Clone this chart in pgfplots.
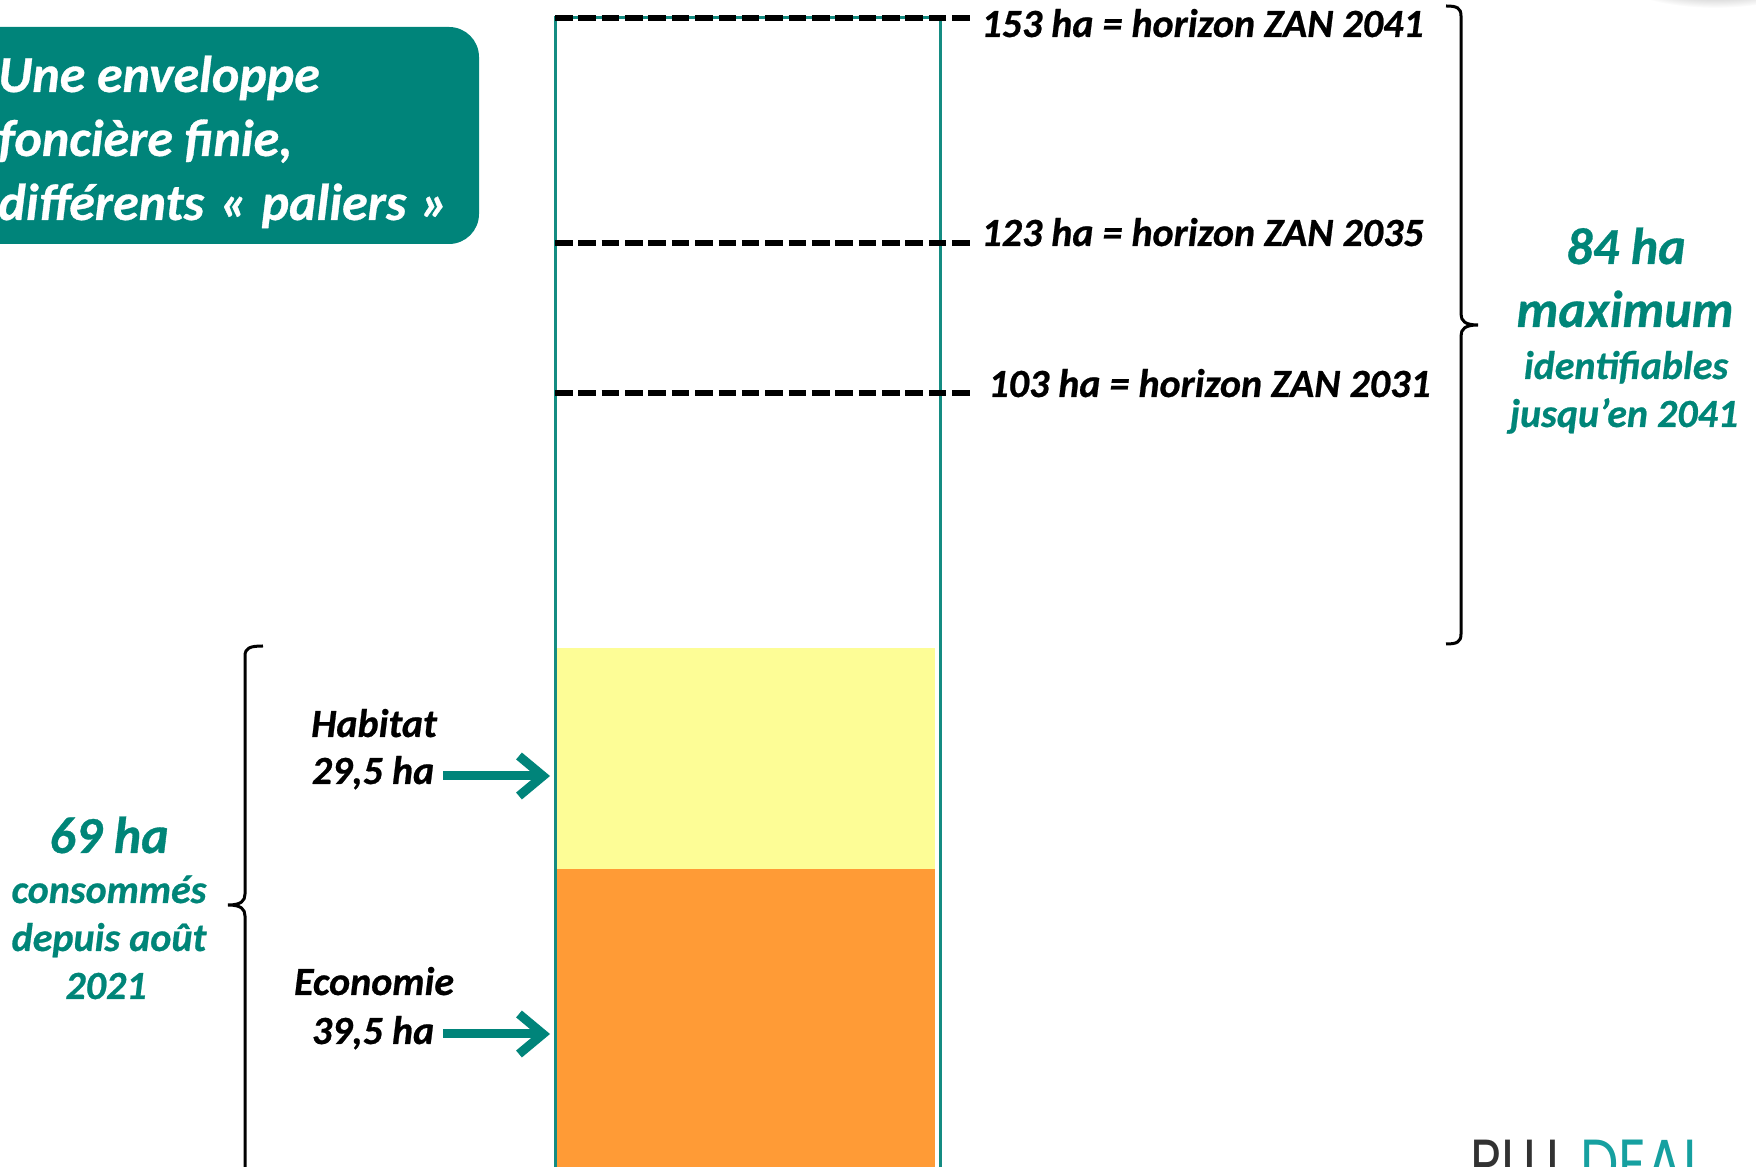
\documentclass[border=0pt]{standalone}
\usepackage{fontspec}
\setmainfont{Carlito}[BoldItalicFeatures={FakeBold=0.6}]
\newfontfamily\logofont{Poppins}
\usepackage{pgfplots}
\pgfplotsset{compat=1.18}
\usetikzlibrary{arrows.meta}
\definecolor{zteal}{RGB}{0,132,122}
\definecolor{tteal}{RGB}{0,133,120}
\definecolor{outl}{RGB}{20,140,130}
\definecolor{habit}{RGB}{253,253,150}
\definecolor{econ}{RGB}{255,155,54}
\definecolor{logoteal}{RGB}{22,160,160}
\definecolor{logodark}{RGB}{50,50,50}
\newcommand\zlab{\fontsize{20pt}{24pt}\selectfont\bfseries\itshape}
\newcommand\zbig{\fontsize{26pt}{30pt}\selectfont\bfseries\itshape}
\newcommand\zboxf{\fontsize{26pt}{30pt}\selectfont\bfseries\itshape}
\begin{document}
\begin{tikzpicture}
\begin{axis}[name=ax, width=878pt, height=583.5pt, scale only axis, hide axis,
  xmin=0, xmax=1756, ymin=-0.2, ymax=155.4, clip=false]
% consumed land: Economie 39.5 ha, Habitat 29.5 ha (total 69 ha)
\addplot[draw=none, fill=econ] coordinates {(557,-0.2) (557,39.5) (935,39.5) (935,-0.2)} -- cycle;
\addplot[draw=none, fill=habit] coordinates {(557,39.5) (557,69) (935,69) (935,39.5)} -- cycle;
% envelope outline up to 153 ha
\addplot[line width=1.5pt, draw=outl] coordinates {(555,-1) (555,153) (940,153) (940,-1)};
% horizons
\addplot[line width=3pt, black, dash pattern=on 8.8pt off 2.88pt] coordinates {(555,153) (970,153)};
\addplot[line width=3pt, black, dash pattern=on 8.8pt off 2.88pt] coordinates {(555,123) (970,123)};
\addplot[line width=3pt, black, dash pattern=on 8.8pt off 2.88pt] coordinates {(555,103) (970,103)};
\end{axis}
\begin{scope}[shift={(ax.north west)}, x=0.5pt, y=-0.5pt]
\node[anchor=base west, font=\zlab, inner sep=0pt] at (981,37) {153 ha = horizon ZAN 2041};
\node[anchor=base west, font=\zlab, inner sep=0pt] at (981,246) {123 ha = horizon ZAN 2035};
\node[anchor=base west, font=\zlab, inner sep=0pt] at (988,397) {103 ha = horizon ZAN 2031};
% top-right shadow
\shade[inner color=black!55, outer color=white] (1715,-28) ellipse (105 and 36);
% green box
\fill[zteal, rounded corners=15pt] (-80,27) rectangle (479,244);
\node[anchor=base west, font=\zboxf, text=white, inner sep=0pt] at (-2,92) {Une enveloppe};
\node[anchor=base west, font=\zboxf, text=white, inner sep=0pt] at (-2,156) {foncière finie,};
\node[anchor=base west, font=\zboxf, text=white, inner sep=0pt] at (-2,220) {différents\hspace{2pt} «\hspace{1pt} paliers\hspace{1pt} »};
% right brace
\draw[line width=1.5pt, black] (1446,6) .. controls (1457,6) and (1461,8) .. (1461,16)
  -- (1461,314) .. controls (1461,321) and (1465,325) .. (1478,325)
  .. controls (1465,325) and (1461,329) .. (1461,336) -- (1461,634)
  .. controls (1461,642) and (1457,644) .. (1446,644);
\node[anchor=base, font=\zbig, text=tteal, inner sep=0pt] at (1626,264) {84 ha};
\node[anchor=base, font=\zbig, text=tteal, inner sep=0pt] at (1625,327) {maximum};
\node[anchor=base, font=\zlab, text=tteal, inner sep=0pt] at (1626,379) {identifiables};
\node[anchor=base, font=\zlab, text=tteal, inner sep=0pt] at (1624,427) {jusqu’en 2041};
% left brace
\draw[line width=1.5pt, black] (263,646) .. controls (250,646) and (245,648) .. (245,656)
  -- (245,894) .. controls (245,901) and (241,905) .. (228,905)
  .. controls (241,905) and (245,909) .. (245,916) -- (245,1200);
\node[anchor=base, font=\zbig, text=tteal, inner sep=0pt] at (109,853) {69 ha};
\node[anchor=base, font=\zlab, text=tteal, inner sep=0pt] at (109,903) {consommés};
\node[anchor=base, font=\zlab, text=tteal, inner sep=0pt] at (109,951) {depuis août};
\node[anchor=base, font=\zlab, text=tteal, inner sep=0pt] at (106,999) {2021};
% labels and arrows
\node[anchor=base, font=\zlab, inner sep=0pt] at (374,737) {Habitat};
\node[anchor=base, font=\zlab, inner sep=0pt] at (373,784) {29,5 ha};
\node[anchor=base, font=\zlab, inner sep=0pt] at (374,995) {Economie};
\node[anchor=base, font=\zlab, inner sep=0pt] at (373,1044) {39,5 ha};
\draw[zteal, line width=4.5pt, -{Straight Barb[length=12pt, width=20pt]}] (443,776) -- (550,776);
\draw[zteal, line width=4.5pt, -{Straight Barb[length=12pt, width=20pt]}] (443,1034) -- (550,1034);
% logo (cut off at the bottom)
\node[anchor=base west, xscale=0.78, font=\logofont\fontsize{34pt}{38pt}\selectfont, text=logodark, inner sep=0pt] at (1470,1187) {PLU};
\node[anchor=base west, xscale=0.8, font=\logofont\fontsize{34pt}{38pt}\selectfont, text=logoteal, inner sep=0pt] at (1580,1187) {DEAL};
\end{scope}
\pgfresetboundingbox
\path[use as bounding box] (ax.south west) rectangle (ax.north east);
\end{tikzpicture}
\end{document}
